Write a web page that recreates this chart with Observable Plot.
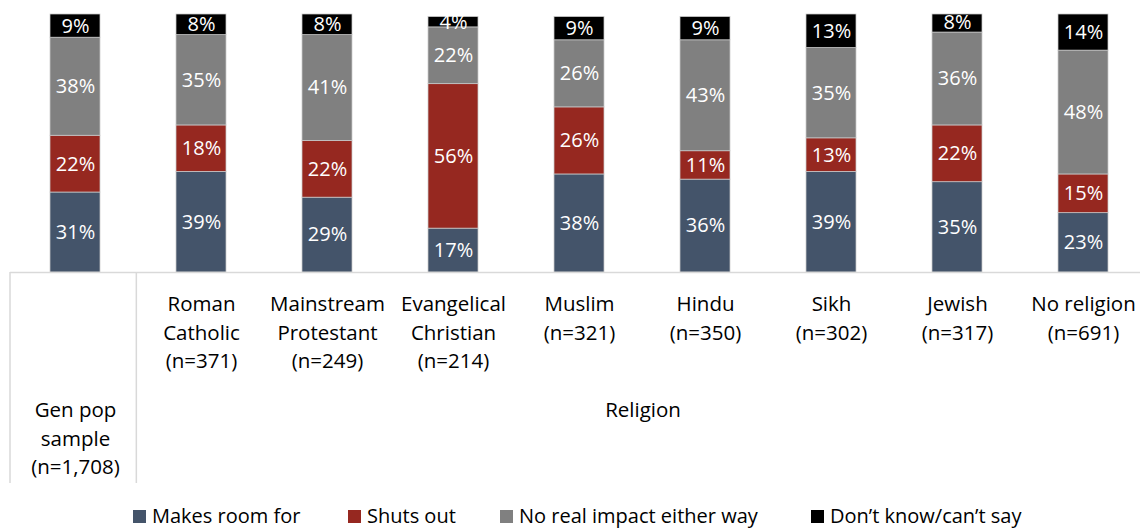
<!DOCTYPE html>
<html><head><meta charset="utf-8">
<script src="https://cdn.jsdelivr.net/npm/d3@7"></script>
<script src="https://cdn.jsdelivr.net/npm/@observablehq/plot@0.6"></script>
<style>
html,body{margin:0;padding:0;background:#fff;}
body{width:1140px;height:529px;overflow:hidden;position:relative;font-family:"Open Sans",sans-serif;}
#legend{position:absolute;left:133px;top:503px;display:flex;font-size:20px;line-height:26px;color:#000;white-space:nowrap;}
#legend .item{display:flex;align-items:center;}
#legend .sw{width:13px;height:13px;margin-right:6px;display:inline-block;}
</style></head>
<body><div id="chart"></div><div id="legend"></div>
<script>
// ---- data ----
const categories = [
  "Gen pop\nsample\n(n=1,708)",
  "Roman\nCatholic\n(n=371)",
  "Mainstream\nProtestant\n(n=249)",
  "Evangelical\nChristian\n(n=214)",
  "Muslim\n(n=321)",
  "Hindu\n(n=350)",
  "Sikh\n(n=302)",
  "Jewish\n(n=317)",
  "No religion\n(n=691)"
];
const seriesNames = ["Makes room for", "Shuts out", "No real impact either way", "Don’t know/can’t say"];
const makesRoomFor = [31, 39, 29, 17, 38, 36, 39, 35, 23];
const shutsOut     = [22, 18, 22, 56, 26, 11, 13, 22, 15];
const noImpact     = [38, 35, 41, 22, 26, 43, 35, 36, 48];
const dontKnow     = [ 9,  8,  8,  4,  9,  9, 13,  8, 14];
const groupLabel = "Religion";
const seriesColors = ["#44546A", "#962820", "#808080", "#000000"];

// ---- build table ----
const seriesValues = [makesRoomFor, shutsOut, noImpact, dontKnow];
const rows = [];
seriesNames.forEach((s, si) => {
  categories.forEach((c, ci) => rows.push({category: c, series: s, value: seriesValues[si][ci]}));
});

const W = 1140, H = 500;
const xRange = [9.67, 1149.67];
const step = (xRange[1] - xRange[0]) / categories.length;

const chart = Plot.plot({
  width: W, height: H,
  marginTop: 14, marginBottom: 228, marginLeft: 10, marginRight: 0,
  style: {fontFamily: "'Open Sans', sans-serif", background: "#fff", overflow: "hidden"},
  x: {type: "band", domain: categories, range: xRange, paddingInner: 0.6, paddingOuter: 0.3, axis: null},
  y: {domain: [0, 100], clamp: true, axis: null},
  color: {domain: seriesNames, range: seriesColors},
  marks: [
    Plot.barY(rows, Plot.stackY({x: "category", y: "value", z: "series", fill: "series", order: seriesNames, stroke: "#c9c9c9", strokeWidth: 0.75})),
    Plot.text(rows, Plot.stackY({x: "category", y: "value", z: "series", order: seriesNames, text: d => d.value + "%", fill: "#fff", fontSize: 20, clip: true})),
    Plot.ruleY([0], {stroke: "#d9d9d9", strokeWidth: 1.5}),
    Plot.text(categories.slice(1), {x: d => d, text: d => d, frameAnchor: "bottom", lineAnchor: "top", dy: 18, lineHeight: 1.4, fontSize: 20.5, fill: "#000"}),
    Plot.text(categories.slice(0, 1), {x: d => d, text: d => d, frameAnchor: "bottom", lineAnchor: "top", dy: 124, lineHeight: 1.4, fontSize: 20.5, fill: "#000"})
  ]
});
document.getElementById("chart").appendChild(chart);

// table separators and group label, positioned from the x band layout
const svg = d3.select(chart);
const yAxis = H - 228;
const edges = [xRange[0] + 0.33, xRange[0] + step];
edges.forEach(ex => {
  svg.append("line").attr("x1", ex).attr("x2", ex).attr("y1", yAxis).attr("y2", 483)
    .attr("stroke", "#d9d9d9").attr("stroke-width", 1.5);
});
svg.append("text")
  .attr("x", (xRange[0] + step + xRange[1]) / 2)
  .attr("y", 417)
  .attr("text-anchor", "middle")
  .attr("font-size", 20.5)
  .attr("font-family", "'Open Sans', sans-serif")
  .text(groupLabel);

// legend
const legendWidths = [215, 152, 311, null];
const legend = d3.select("#legend");
seriesNames.forEach((s, i) => {
  const it = legend.append("div").attr("class", "item");
  if (legendWidths[i]) it.style("width", legendWidths[i] + "px");
  it.append("span").attr("class", "sw").style("background", seriesColors[i]);
  it.append("span").text(s);
});
</script>
</body></html>
